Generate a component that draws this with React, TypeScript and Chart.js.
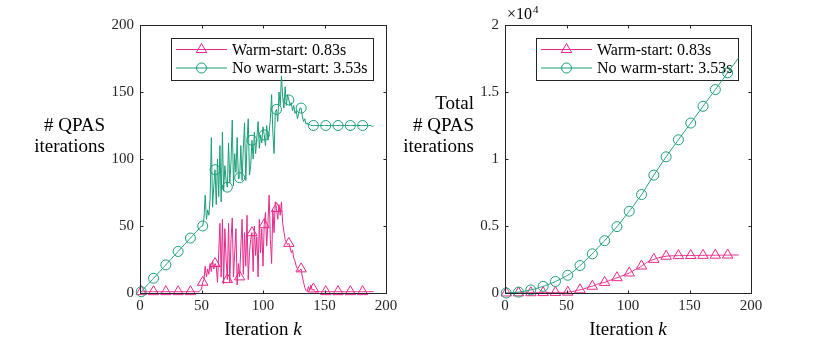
import React, { useEffect, useRef } from 'react';
import { Chart, registerables } from 'chart.js';

Chart.register(...registerables);

// QPAS iterations per MPC iteration k = 1..190
const warmStartIters = [
  1, 1, 1, 1, 1, 1, 1, 1, 1, 1,
  1, 1, 1, 1, 1, 1, 1, 1, 1, 1,
  1, 1, 1, 1, 1, 1, 1, 1, 1, 1,
  1, 1, 1, 1, 1, 1, 1, 1, 1, 1,
  1, 1, 1, 1, 1, 1, 1, 1, 2, 3,
  8, 10, 20, 12, 18, 14, 22, 16, 24, 18,
  22, 20, 8, 30, 52, 12, 55, 7, 48, 25,
  10, 52, 8, 40, 56, 12, 30, 48, 6, 22,
  12, 35, 55, 14, 45, 20, 58, 10, 30, 40,
  45, 16, 50, 28, 42, 12, 55, 30, 48, 20,
  51, 60, 35, 52, 73, 40, 22, 62, 45, 68,
  63, 55, 66, 58, 68, 52, 46, 40, 38, 36,
  37, 34, 30, 32, 26, 24, 20, 18, 16, 17,
  18, 12, 8, 4, 2, 1, 5, 2, 6, 2,
  3, 1, 1, 1, 1, 1, 1, 1, 1, 1,
  1, 1, 1, 1, 1, 1, 1, 1, 1, 1,
  1, 1, 1, 1, 1, 1, 1, 1, 1, 1,
  1, 1, 1, 1, 1, 1, 1, 1, 1, 1,
  1, 1, 1, 1, 1, 1, 1, 1, 1, 1,
];

const noWarmStartIters = [
  1, 2, 3, 4, 5, 6, 7, 8, 9, 10,
  11, 12, 13, 14, 15, 16, 17, 18, 19, 20,
  21, 22, 23, 24, 25, 26, 27, 28, 29, 30,
  31, 32, 33, 34, 35, 36, 37, 38, 39, 40,
  41, 42, 43, 44, 45, 46, 47, 48, 49, 50,
  50, 56, 73, 55, 62, 58, 70, 116, 64, 80,
  92, 66, 100, 72, 110, 68, 120, 76, 95, 84,
  79, 112, 82, 98, 129, 80, 104, 90, 116, 85,
  86, 110, 84, 108, 127, 84, 112, 130, 88, 95,
  114, 100, 120, 104, 116, 128, 108, 118, 112, 124,
  118, 110, 125, 114, 120, 130, 148, 120, 104, 135,
  137, 128, 150, 140, 162, 146, 138, 154, 140, 148,
  144, 140, 142, 136, 140, 134, 136, 130, 134, 138,
  138, 132, 128, 130, 126, 127, 125, 126, 125, 125,
  125, 125, 125, 125, 125, 125, 125, 125, 125, 125,
  125, 125, 125, 125, 125, 125, 125, 125, 125, 125,
  125, 125, 125, 125, 125, 125, 125, 125, 125, 125,
  125, 125, 125, 125, 125, 125, 125, 125, 125, 125,
  125, 125, 125, 125, 125, 125, 125, 125, 124, 125,
];

const seriesLabels = ['Warm-start: 0.83s', 'No warm-start: 3.53s'];
const xTicks = [0, 50, 100, 150, 200];
const leftYTicks = [0, 50, 100, 150, 200];
const rightYTicks = [0, 5000, 10000, 15000, 20000];

const PINK = '#e7298a';
const GREEN = '#1b9e77';
const AXIS = '#262626';
const FONT = '"Liberation Serif", "Times New Roman", serif';

const iterationK = warmStartIters.map((_, i) => i + 1);

function cumsum(a: number[]): number[] {
  const out: number[] = [];
  let s = 0;
  for (const v of a) {
    s += v;
    out.push(s);
  }
  return out;
}

function drawMarker(ctx: CanvasRenderingContext2D, style: string, x: number, y: number, color: string) {
  ctx.save();
  ctx.strokeStyle = color;
  ctx.lineWidth = 1;
  ctx.beginPath();
  if (style === 'triangle') {
    const r = 6;
    ctx.moveTo(x, y - r);
    ctx.lineTo(x + r * Math.sin((2 * Math.PI) / 3), y + r / 2);
    ctx.lineTo(x - r * Math.sin((2 * Math.PI) / 3), y + r / 2);
    ctx.closePath();
  } else {
    ctx.arc(x, y, 5, 0, Math.PI * 2);
  }
  ctx.stroke();
  ctx.restore();
}

const decorPlugin = {
  id: 'matlabDecor',
  beforeDatasetsDraw(chart: any, _args: any, opts: any) {
    const ctx: CanvasRenderingContext2D = chart.ctx;
    const L = opts.legendLeft;
    const T = 38;
    const W = 202;
    const H = 42;
    ctx.save();
    ctx.fillStyle = '#ffffff';
    ctx.fillRect(L, T, W, H);
    ctx.strokeStyle = AXIS;
    ctx.lineWidth = 1;
    ctx.strokeRect(L + 0.5, T + 0.5, W, H);
    const rows = [
      { y: 49.5, color: PINK, style: 'triangle', text: seriesLabels[0] },
      { y: 68, color: GREEN, style: 'circle', text: seriesLabels[1] },
    ];
    ctx.font = `16px ${FONT}`;
    ctx.textBaseline = 'middle';
    ctx.textAlign = 'left';
    for (const r of rows) {
      ctx.strokeStyle = r.color;
      ctx.lineWidth = 1;
      ctx.beginPath();
      ctx.moveTo(L + 5, r.y);
      ctx.lineTo(L + 56, r.y);
      ctx.stroke();
      drawMarker(ctx, r.style, L + 30.5, r.y, r.color);
      ctx.fillStyle = '#000';
      ctx.fillText(r.text, L + 61, r.y + 1);
    }
    ctx.restore();
  },
  afterDatasetsDraw(chart: any) {
    const ctx: CanvasRenderingContext2D = chart.ctx;
    const a = chart.chartArea;
    const xs = chart.scales.x;
    const ys = chart.scales.y;
    ctx.save();
    ctx.strokeStyle = AXIS;
    ctx.lineWidth = 1;
    const l = Math.round(a.left) + 0.5;
    const r = Math.round(a.right) + 0.5;
    const t = Math.round(a.top) + 0.5;
    const b = Math.round(a.bottom) + 0.5;
    ctx.strokeRect(l, t, r - l, b - t);
    const tl = 3;
    ctx.beginPath();
    for (const tk of xs.ticks) {
      const px = Math.round(xs.getPixelForValue(tk.value)) + 0.5;
      ctx.moveTo(px, b);
      ctx.lineTo(px, b - tl);
      ctx.moveTo(px, t);
      ctx.lineTo(px, t + tl);
    }
    for (const tk of ys.ticks) {
      const py = Math.round(ys.getPixelForValue(tk.value)) + 0.5;
      ctx.moveTo(l, py);
      ctx.lineTo(l + tl, py);
      ctx.moveTo(r, py);
      ctx.lineTo(r - tl, py);
    }
    ctx.stroke();
    ctx.restore();
  },
  afterDraw(chart: any, _args: any, opts: any) {
    const ctx: CanvasRenderingContext2D = chart.ctx;
    const a = chart.chartArea;
    ctx.save();
    ctx.fillStyle = '#000';
    // y label (horizontal, MATLAB style)
    ctx.font = `19px ${FONT}`;
    ctx.textAlign = 'right';
    ctx.textBaseline = 'middle';
    const lines: string[] = opts.yLabel;
    const ys: number[] = opts.yLabelY;
    lines.forEach((ln, i) => ctx.fillText(ln, opts.yLabelRight, ys[i]));
    // x label
    const cx = (a.left + a.right) / 2;
    const part1 = 'Iteration ';
    const part2 = 'k';
    ctx.font = `19px ${FONT}`;
    const w1 = ctx.measureText(part1).width;
    ctx.font = `italic 19px ${FONT}`;
    const w2 = ctx.measureText(part2).width;
    const x0 = cx - (w1 + w2) / 2;
    ctx.textAlign = 'left';
    ctx.textBaseline = 'middle';
    ctx.font = `19px ${FONT}`;
    ctx.fillText(part1, x0, 330);
    ctx.font = `italic 19px ${FONT}`;
    ctx.fillText(part2, x0 + w1, 330);
    // exponent
    if (opts.exponent) {
      ctx.font = `16px ${FONT}`;
      ctx.textBaseline = 'middle';
      ctx.textAlign = 'left';
      const ex = a.left + 2;
      ctx.fillText('\u00d710', ex, 15);
      const w = ctx.measureText('\u00d710').width;
      ctx.font = `11px ${FONT}`;
      ctx.fillText('4', ex + w + 1, 10);
    }
    ctx.restore();
  },
};

function makeConfig(total: boolean): any {
  const warm = total ? cumsum(warmStartIters) : warmStartIters;
  const cold = total ? cumsum(noWarmStartIters) : noWarmStartIters;
  const yTicks = total ? rightYTicks : leftYTicks;
  const tickFont = { family: FONT, size: 15 };
  const markerRadius = (r: number) => (c: any) => (c.dataIndex % 10 === 0 ? r : 0);
  return {
    type: 'line',
    data: {
      datasets: [
        {
          label: seriesLabels[0],
          data: iterationK.map((k, i) => ({ x: k, y: warm[i] })),
          borderColor: PINK,
          borderWidth: 1,
          pointStyle: 'triangle',
          pointRadius: markerRadius(6),
          pointHoverRadius: 0,
          pointBorderColor: PINK,
          pointBackgroundColor: 'rgba(0,0,0,0)',
          pointBorderWidth: 1,
          tension: 0,
          clip: false,
          order: 1,
        },
        {
          label: seriesLabels[1],
          data: iterationK.map((k, i) => ({ x: k, y: cold[i] })),
          borderColor: GREEN,
          borderWidth: 1,
          pointStyle: 'circle',
          pointRadius: markerRadius(5),
          pointHoverRadius: 0,
          pointBorderColor: GREEN,
          pointBackgroundColor: 'rgba(0,0,0,0)',
          pointBorderWidth: 1,
          tension: 0,
          clip: false,
          order: 0,
        },
      ],
    },
    options: {
      animation: false,
      responsive: false,
      devicePixelRatio: 1,
      events: [],
      layout: { padding: { left: 0, top: 25, right: 29, bottom: 0 } },
      scales: {
        x: {
          type: 'linear',
          min: xTicks[0],
          max: xTicks[xTicks.length - 1],
          afterBuildTicks: (s: any) => {
            s.ticks = xTicks.map((v) => ({ value: v }));
          },
          ticks: { font: tickFont, color: AXIS, padding: 4, maxRotation: 0, autoSkip: false },
          grid: { display: false, drawTicks: false },
          border: { display: false },
          afterFit: (s: any) => {
            s.height = 48;
          },
        },
        y: {
          type: 'linear',
          min: yTicks[0],
          max: yTicks[yTicks.length - 1],
          afterBuildTicks: (s: any) => {
            s.ticks = yTicks.map((v) => ({ value: v }));
          },
          ticks: {
            font: tickFont,
            color: AXIS,
            padding: 6,
            autoSkip: false,
            callback: (v: number) => (total ? String(v / 10000) : String(v)),
          },
          grid: { display: false, drawTicks: false },
          border: { display: false },
          afterFit: (s: any) => {
            s.width = total ? 110 : 140;
          },
        },
      },
      plugins: {
        legend: { display: false },
        tooltip: { enabled: false },
        matlabDecor: total
          ? {
              legendLeft: 141,
              yLabel: ['Total', '# QPAS', 'iterations'],
              yLabelY: [104, 126, 147.5],
              yLabelRight: 79,
              exponent: true,
            }
          : {
              legendLeft: 171,
              yLabel: ['# QPAS', 'iterations'],
              yLabelY: [126, 147.5],
              yLabelRight: 105,
              exponent: false,
            },
      },
    },
    plugins: [decorPlugin],
  };
}

function ChartCanvas({ total, left, width }: { total: boolean; left: number; width: number }) {
  const ref = useRef<HTMLCanvasElement | null>(null);
  useEffect(() => {
    if (!ref.current) return;
    const chart = new Chart(ref.current, makeConfig(total));
    return () => chart.destroy();
  }, [total]);
  return (
    <canvas
      ref={ref}
      width={width}
      height={341}
      style={{ position: 'absolute', left, top: 0, width, height: 341 }}
    />
  );
}

export default function App() {
  return (
    <div
      style={{
        position: 'fixed',
        left: 0,
        top: 0,
        width: 830,
        height: 341,
        background: '#ffffff',
        overflow: 'hidden',
      }}
    >
      <ChartCanvas total={false} left={0} width={415} />
      <ChartCanvas total={true} left={395} width={385} />
    </div>
  );
}
